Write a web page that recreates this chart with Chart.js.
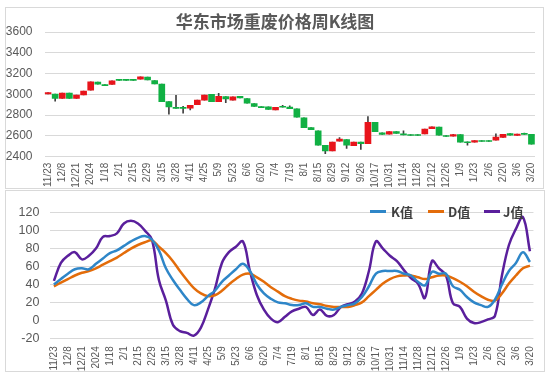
<!DOCTYPE html>
<html>
<head>
<meta charset="utf-8">
<script src="https://cdn.jsdelivr.net/npm/chart.js@4.4.1/dist/chart.umd.min.js"></script>
<style>
  html, body { margin: 0; padding: 0; background: #ffffff; }
  #wrap { position: relative; width: 550px; height: 379px; overflow: hidden; background: #fff; }
  canvas { position: absolute; left: 0; }
  .box { position: absolute; border: 1px solid #d9d9d9; box-sizing: border-box; }
  #title { position: absolute; left: 0; width: 550px; top: 9px; text-align: center;
           font-family: "Noto Sans CJK SC", sans-serif; font-size: 17px; font-weight: bold; color: #595959; line-height: 24px; }
  .lg { position: absolute; top: 203px; height: 18px; line-height: 18px; font-family: "Noto Sans CJK SC", sans-serif;
        font-size: 13px; font-weight: bold; color: #404040; }
  .mk { position: absolute; height: 3px; top: 210px; }
</style>
</head>
<body>
<div id="wrap">
  <div class="box" style="left:5px;top:7px;width:539px;height:182px;"></div>
  <div class="box" style="left:5px;top:190px;width:540px;height:182px;"></div>
  <canvas id="top" width="550" height="190" style="top:0"></canvas>
  <canvas id="bot" width="550" height="189" style="top:190px"></canvas>
  <div id="title">华东市场重废价格周K线图</div>
  <div class="mk" style="left:370px;width:16px;background:#2e86c8;"></div>
  <div class="lg" style="left:391px;">K值</div>
  <div class="mk" style="left:428px;width:16px;background:#e36c0a;"></div>
  <div class="lg" style="left:448px;">D值</div>
  <div class="mk" style="left:484px;width:16px;background:#5a1f9c;"></div>
  <div class="lg" style="left:503px;">J值</div>
</div>
<script>
const categories = ["11/23","11/30","12/8","12/14","12/21","12/28","2024","1/11","1/18","1/25",
  "2/1","2/8","2/15","2/22","2/29","3/7","3/15","3/21","3/28","4/3",
  "4/11","4/18","4/25","4/30","5/9","5/16","5/23","5/30","6/6","6/13",
  "6/20","6/27","7/4","7/11","7/19","7/25","8/1","8/8","8/15","8/22",
  "8/29","9/5","9/12","9/19","9/26","10/10","10/17","10/24","10/31","11/7",
  "11/14","11/21","11/28","12/5","12/12","12/19","12/26","1/2","1/9","1/16",
  "1/23","1/26","2/6","2/13","2/20","2/27","3/6","3/13","3/20"];

const openP  = [3005,3002,2962,3012,2962,2995,3040,3117,3094,3095,
  3144,3144,3144,3145,3166,3132,3100,2930,2874,2874,
  2868,2900,2945,3000,2930,2978,2945,2980,2960,2910,
  2882,2880,2850,2884,2877,2860,2775,2680,2650,2510,
  2455,2550,2565,2505,2540,2525,2730,2630,2618,2642,
  2620,2614,2614,2620,2670,2685,2604,2598,2612,2544,
  2540,2556,2556,2560,2585,2622,2604,2624,2616];
const closeP = [3017,2962,3012,2962,2992,3032,3120,3097,3084,3130,
  3134,3134,3134,3168,3140,3100,2930,2878,2864,2864,
  2895,2945,2992,2930,2980,2955,2975,2966,2915,2885,
  2872,2855,2876,2876,2862,2780,2680,2660,2510,2455,
  2540,2570,2510,2540,2526,2730,2640,2614,2642,2625,
  2610,2604,2604,2665,2688,2608,2594,2612,2540,2536,
  2554,2547,2547,2588,2615,2608,2618,2614,2520];
const highP  = [3017,3002,3012,3012,2992,3032,3120,3117,3094,3130,
  3144,3144,3144,3168,3166,3132,3100,2930,2990,2885,
  2895,2945,2992,3000,3010,2978,2975,2980,2960,2910,
  2882,2880,2876,2895,2890,2860,2775,2680,2650,2510,
  2540,2585,2565,2540,2540,2785,2730,2630,2642,2642,
  2650,2614,2614,2665,2688,2685,2604,2615,2612,2544,
  2554,2556,2556,2620,2615,2622,2618,2628,2616];
const lowP   = [3005,2935,2962,2962,2962,2995,3040,3097,3084,3095,
  3134,3134,3134,3145,3140,3100,2930,2810,2864,2820,
  2850,2900,2945,2930,2930,2920,2945,2966,2915,2885,
  2872,2855,2850,2876,2862,2780,2680,2660,2510,2430,
  2455,2550,2480,2505,2470,2525,2640,2614,2618,2625,
  2610,2604,2604,2620,2670,2608,2594,2598,2540,2510,
  2540,2547,2547,2560,2585,2608,2604,2614,2520];

const kVal = [40,46,52,57,58,57,63,69,75,78,
  83,88,92,94,90,78,58,45,34,24,
  17,20,27,33,43,50,57,63,55,40,
  30,24,20,19,17,17,19,15,15,13,
  12,15,17,19,26,38,52,55,55,55,
  52,50,43,39,54,52,52,38,34,26,
  20,17,15,23,40,55,64,76,65];
const dVal = [38,42,46,50,53,55,58,62,66,70,
  75,80,84,87,89,82,75,66,55,45,
  36,30,27,28,33,40,46,51,52,48,
  43,37,32,27,24,22,21,19,18,16,
  15,15,15,17,20,27,34,41,46,49,
  50,50,48,46,48,50,50,47,43,38,
  32,27,23,22,30,41,50,58,61];
const jVal = [44,64,72,76,68,72,80,93,94,97,
  108,111,108,100,90,45,22,-5,-12,-14,
  -17,-8,12,35,64,76,82,88,55,28,
  12,2,-2,4,10,13,15,6,12,5,
  6,15,18,21,30,55,88,80,72,66,
  56,47,41,25,66,58,50,19,15,2,
  -3,-2,1,5,50,84,102,115,77];

const priceTicks = [2400, 3600, 200];
const kdjTicks = [-20, 120, 20];

const UP = '#e8141b', DOWN = '#10b043', WICK = '#404040';
const tickFont = { family: "'Liberation Sans', Arial, sans-serif", size: 12 };
const xFont = { family: "'Liberation Sans', Arial, sans-serif", size: 10 };
const grey = '#595959';
const gridCol = '#d9d9d9';

function xCallback(v, i) { return i % 2 === 0 ? categories[i] : ''; }
function yCallback(v) { return String(v); }

new Chart(document.getElementById('top'), {
  type: 'bar',
  data: {
    labels: categories,
    datasets: [
      {
        data: categories.map((c, i) => [lowP[i], highP[i]]),
        backgroundColor: WICK, barThickness: 1, grouped: false, order: 2, borderSkipped: false
      },
      {
        data: categories.map((c, i) => [openP[i], closeP[i]]),
        backgroundColor: categories.map((c, i) => closeP[i] >= openP[i] ? UP : DOWN),
        barThickness: 6, grouped: false, order: 1, borderSkipped: false
      }
    ]
  },
  options: {
    responsive: false, animation: false, devicePixelRatio: 1,
    layout: { padding: { top: 32, right: 15, left: 0, bottom: 0 } },
    plugins: { legend: { display: false }, tooltip: { enabled: false }, title: { display: false } },
    scales: {
      x: {
        offset: true,
        grid: { display: false, drawTicks: false },
        border: { display: false },
        ticks: { autoSkip: false, minRotation: 90, maxRotation: 90, padding: 6, color: grey, font: xFont, callback: xCallback },
        afterFit: s => { s.height = 33.3; }
      },
      y: {
        min: priceTicks[0], max: priceTicks[1],
        grid: { color: gridCol, drawTicks: false },
        border: { display: false },
        ticks: { stepSize: priceTicks[2], autoSkip: false, padding: 12, color: grey, font: tickFont, callback: yCallback },
        afterFit: s => { s.width = 44.5; }
      }
    }
  }
});

new Chart(document.getElementById('bot'), {
  type: 'line',
  data: {
    labels: categories,
    datasets: [
      { label: 'K值', data: kVal, borderColor: '#2e86c8', borderWidth: 2.5, pointRadius: 0, tension: 0.4, fill: false },
      { label: 'D值', data: dVal, borderColor: '#e36c0a', borderWidth: 2.5, pointRadius: 0, tension: 0.4, fill: false },
      { label: 'J值', data: jVal, borderColor: '#5a1f9c', borderWidth: 2.5, pointRadius: 0, tension: 0.4, fill: false }
    ]
  },
  options: {
    responsive: false, animation: false, devicePixelRatio: 1,
    layout: { padding: { top: 22.7, right: 8.4, left: 0, bottom: 0 } },
    plugins: { legend: { display: false }, tooltip: { enabled: false } },
    scales: {
      x: {
        offset: true,
        grid: { display: false, drawTicks: false },
        border: { display: false },
        ticks: { autoSkip: false, minRotation: 90, maxRotation: 90, padding: 8, color: grey, font: xFont, callback: xCallback },
        afterFit: s => { s.height = 40.7; }
      },
      y: {
        min: kdjTicks[0], max: kdjTicks[1],
        grid: { color: gridCol, drawTicks: false },
        border: { display: false },
        ticks: { stepSize: kdjTicks[2], autoSkip: false, padding: 11, color: grey, font: { family: tickFont.family, size: 12.5 }, callback: yCallback },
        afterFit: s => { s.width = 50.4; }
      }
    }
  }
});
</script>
</body>
</html>
